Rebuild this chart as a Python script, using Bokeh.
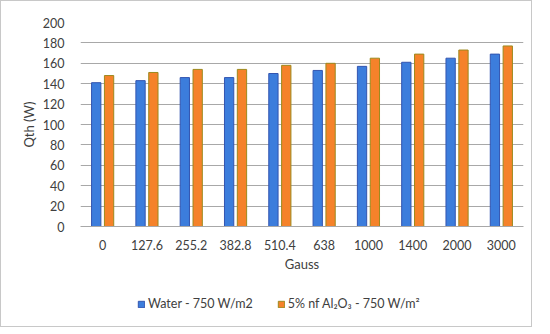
from bokeh.plotting import figure
from bokeh.layouts import column
from bokeh.models import FactorRange, Range1d, FixedTicker, Legend, LegendItem, ColumnDataSource
from bokeh.transform import dodge
from bokeh.embed import file_html
from bokeh.resources import INLINE

gauss = ["0", "127.6", "255.2", "382.8", "510.4", "638", "1000", "1400", "2000", "3000"]
water = [141, 143, 146, 146, 150, 153, 157, 161, 165, 169]
nano = [148, 151, 154, 154, 158, 160, 165, 169, 173, 177]
y_ticks = list(range(0, 201, 20))
series_labels = ["Water - 750 W/m2", "5% nf Al\u2082O\u2083 - 750 W/m\u00b2"]

src = ColumnDataSource(dict(gauss=gauss, water=water, nano=nano))

FONT = "Lato"
TXT = "#404040"
BLUE, BLUE_LINE = "#3C7DDC", "#3355B0"
ORANGE, ORANGE_LINE = "#F5822A", "#9C8A1E"

p = figure(width=530, height=287, x_range=FactorRange(*gauss, range_padding=0),
           y_range=Range1d(0, 200), output_backend="svg", toolbar_location=None,
           min_border_left=79, min_border_right=8, min_border_top=21, min_border_bottom=62)
p.outline_line_color = None
p.background_fill_color = "white"

r1 = p.vbar(x=dodge("gauss", -0.145, range=p.x_range), top="water", width=0.21, source=src,
            fill_color=BLUE, line_color=BLUE_LINE, line_width=1)
r2 = p.vbar(x=dodge("gauss", 0.145, range=p.x_range), top="nano", width=0.21, source=src,
            fill_color=ORANGE, line_color=ORANGE_LINE, line_width=1)

p.yaxis.ticker = FixedTicker(ticks=y_ticks)
p.ygrid.ticker = FixedTicker(ticks=y_ticks)
p.ygrid.grid_line_color = "#A8A8A8"
p.ygrid.grid_line_width = 1
p.xgrid.grid_line_color = None

for ax in (p.xaxis[0], p.yaxis[0]):
    ax.major_tick_line_color = None
    ax.minor_tick_line_color = None
    ax.major_label_text_font = FONT
    ax.major_label_text_font_size = "12.5px"
    ax.major_label_text_color = TXT
    ax.axis_label_text_font = FONT
    ax.axis_label_text_font_size = "13px"
    ax.axis_label_text_font_style = "normal"
    ax.axis_label_text_color = TXT

p.yaxis.axis_line_color = None
p.xaxis.axis_line_color = "#A8A8A8"
p.yaxis.axis_label = "Qth (W)"
p.xaxis.axis_label = "Gauss"
p.yaxis.major_label_standoff = 10
p.yaxis.axis_label_standoff = 3
p.xaxis.major_label_standoff = 7
p.xaxis.axis_label_standoff = 3

# legend strip below the chart (same data; bars fall outside its visible y range)
pl = figure(width=530, height=38, x_range=p.x_range, y_range=Range1d(1000, 1001),
            output_backend="svg", toolbar_location=None,
            min_border_left=0, min_border_right=0, min_border_top=0, min_border_bottom=0)
pl.axis.visible = False
pl.grid.visible = False
pl.outline_line_color = None
d1 = pl.vbar(x=dodge("gauss", -0.145, range=p.x_range), top="water", width=0.21, source=src,
             fill_color=BLUE, line_color=BLUE_LINE)
d2 = pl.vbar(x=dodge("gauss", 0.145, range=p.x_range), top="nano", width=0.21, source=src,
             fill_color=ORANGE, line_color=ORANGE_LINE)

legend = Legend(items=[LegendItem(label=series_labels[0], renderers=[d1]),
                       LegendItem(label=series_labels[1], renderers=[d2])],
                orientation="horizontal", location=(57, 15),
                glyph_width=8, glyph_height=8, label_standoff=3, spacing=24,
                label_text_font=FONT, label_text_font_size="12.5px", label_text_color=TXT,
                border_line_color=None, background_fill_alpha=0, padding=0, margin=0)
pl.add_layout(legend, "center")

layout = column(p, pl, spacing=0)
layout.styles = {"border": "1px solid #c8c8c8"}

open("out.html", "w").write(file_html(layout, INLINE))
